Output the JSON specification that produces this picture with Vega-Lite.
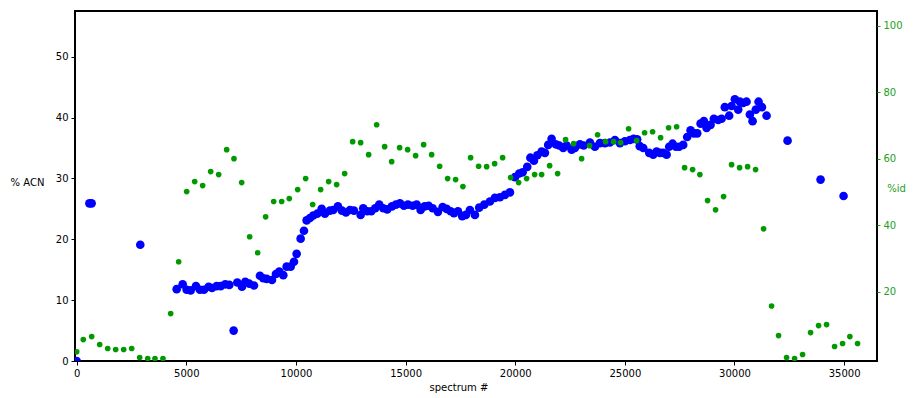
{
  "$schema": "https://vega.github.io/schema/vega-lite/v6.json",
  "width": 802,
  "height": 350,
  "autosize": {"type": "none"},
  "padding": {"left": 75, "top": 11, "right": 36, "bottom": 37},
  "background": "white",
  "config": {
    "view": {"stroke": "black", "strokeWidth": 2},
    "font": "DejaVu Sans",
    "axis": {"labelFont": "DejaVu Sans", "titleFont": "DejaVu Sans", "labelFontSize": 10, "titleFontSize": 10, "titleFontWeight": "normal", "grid": false, "domain": false, "tickColor": "black", "labelColor": "black", "titleColor": "black"}
  },
  "datasets": {
    "acn": [
      {"spectrum": 0, "acn": 0}, {"spectrum": 580, "acn": 25.9}, {"spectrum": 680, "acn": 25.9}, {"spectrum": 2900, "acn": 19.1},
      {"spectrum": 4560, "acn": 11.8}, {"spectrum": 4834, "acn": 12.6}, {"spectrum": 5016, "acn": 11.7}, {"spectrum": 5198, "acn": 11.6},
      {"spectrum": 5440, "acn": 12.3}, {"spectrum": 5622, "acn": 11.7}, {"spectrum": 5805, "acn": 11.7}, {"spectrum": 6019, "acn": 12.2},
      {"spectrum": 6170, "acn": 12.0}, {"spectrum": 6384, "acn": 12.3}, {"spectrum": 6566, "acn": 12.3}, {"spectrum": 6777, "acn": 12.6},
      {"spectrum": 6960, "acn": 12.5}, {"spectrum": 7159, "acn": 5.0}, {"spectrum": 7325, "acn": 12.9}, {"spectrum": 7538, "acn": 12.2},
      {"spectrum": 7690, "acn": 13.0}, {"spectrum": 7873, "acn": 12.7}, {"spectrum": 8085, "acn": 12.4}, {"spectrum": 8359, "acn": 14.0},
      {"spectrum": 8510, "acn": 13.6}, {"spectrum": 8664, "acn": 13.5}, {"spectrum": 8906, "acn": 13.3}, {"spectrum": 9088, "acn": 14.3},
      {"spectrum": 9240, "acn": 14.7}, {"spectrum": 9422, "acn": 14.1}, {"spectrum": 9576, "acn": 15.5}, {"spectrum": 9758, "acn": 15.5},
      {"spectrum": 9909, "acn": 16.3}, {"spectrum": 10032, "acn": 17.6}, {"spectrum": 10214, "acn": 20.1}, {"spectrum": 10365, "acn": 21.4},
      {"spectrum": 10488, "acn": 23.1}, {"spectrum": 10639, "acn": 23.5}, {"spectrum": 10789, "acn": 23.9}, {"spectrum": 10971, "acn": 24.2},
      {"spectrum": 11172, "acn": 25.0}, {"spectrum": 11322, "acn": 24.2}, {"spectrum": 11550, "acn": 24.7}, {"spectrum": 11701, "acn": 24.8},
      {"spectrum": 11915, "acn": 25.4}, {"spectrum": 12098, "acn": 24.7}, {"spectrum": 12280, "acn": 24.4}, {"spectrum": 12463, "acn": 24.8},
      {"spectrum": 12645, "acn": 24.7}, {"spectrum": 12950, "acn": 24.0}, {"spectrum": 13069, "acn": 25.1}, {"spectrum": 13251, "acn": 24.6},
      {"spectrum": 13434, "acn": 24.6}, {"spectrum": 13616, "acn": 25.1}, {"spectrum": 13798, "acn": 25.7}, {"spectrum": 13981, "acn": 25.1},
      {"spectrum": 14163, "acn": 24.9}, {"spectrum": 14378, "acn": 25.4}, {"spectrum": 14560, "acn": 25.7}, {"spectrum": 14742, "acn": 25.9},
      {"spectrum": 14925, "acn": 25.5}, {"spectrum": 15107, "acn": 25.7}, {"spectrum": 15322, "acn": 25.5}, {"spectrum": 15504, "acn": 25.7},
      {"spectrum": 15686, "acn": 24.8}, {"spectrum": 15869, "acn": 25.4}, {"spectrum": 16051, "acn": 25.5}, {"spectrum": 16233, "acn": 25.1},
      {"spectrum": 16475, "acn": 24.5}, {"spectrum": 16690, "acn": 25.3}, {"spectrum": 16872, "acn": 25.0}, {"spectrum": 17055, "acn": 24.6},
      {"spectrum": 17205, "acn": 24.3}, {"spectrum": 17388, "acn": 24.6}, {"spectrum": 17583, "acn": 23.8}, {"spectrum": 17750, "acn": 24.0},
      {"spectrum": 17934, "acn": 24.8}, {"spectrum": 18162, "acn": 24.0}, {"spectrum": 18358, "acn": 25.2}, {"spectrum": 18590, "acn": 25.7},
      {"spectrum": 18846, "acn": 26.2}, {"spectrum": 19075, "acn": 26.8}, {"spectrum": 19303, "acn": 26.9}, {"spectrum": 19531, "acn": 27.3},
      {"spectrum": 19759, "acn": 27.7}, {"spectrum": 19990, "acn": 30.2}, {"spectrum": 20183, "acn": 30.8}, {"spectrum": 20338, "acn": 31.0},
      {"spectrum": 20548, "acn": 31.9}, {"spectrum": 20690, "acn": 33.4}, {"spectrum": 20853, "acn": 32.9}, {"spectrum": 21010, "acn": 33.8},
      {"spectrum": 21204, "acn": 34.4}, {"spectrum": 21355, "acn": 34.2}, {"spectrum": 21505, "acn": 35.5}, {"spectrum": 21660, "acn": 36.5},
      {"spectrum": 21850, "acn": 35.6}, {"spectrum": 22007, "acn": 35.4}, {"spectrum": 22189, "acn": 35.0}, {"spectrum": 22343, "acn": 35.4},
      {"spectrum": 22572, "acn": 34.7}, {"spectrum": 22722, "acn": 35.0}, {"spectrum": 22950, "acn": 35.6}, {"spectrum": 23120, "acn": 35.4},
      {"spectrum": 23407, "acn": 35.9}, {"spectrum": 23635, "acn": 35.2}, {"spectrum": 23863, "acn": 35.8}, {"spectrum": 24091, "acn": 35.8},
      {"spectrum": 24319, "acn": 35.9}, {"spectrum": 24547, "acn": 36.3}, {"spectrum": 24775, "acn": 35.8}, {"spectrum": 25003, "acn": 36.1},
      {"spectrum": 25231, "acn": 36.3}, {"spectrum": 25400, "acn": 36.5}, {"spectrum": 25560, "acn": 36.4}, {"spectrum": 25680, "acn": 35.3},
      {"spectrum": 25840, "acn": 35.0}, {"spectrum": 26111, "acn": 34.2}, {"spectrum": 26293, "acn": 33.9}, {"spectrum": 26448, "acn": 34.4},
      {"spectrum": 26599, "acn": 34.2}, {"spectrum": 26749, "acn": 34.2}, {"spectrum": 26904, "acn": 33.9}, {"spectrum": 27023, "acn": 35.2},
      {"spectrum": 27178, "acn": 35.7}, {"spectrum": 27328, "acn": 35.2}, {"spectrum": 27478, "acn": 35.2}, {"spectrum": 27661, "acn": 35.5},
      {"spectrum": 27843, "acn": 36.8}, {"spectrum": 27998, "acn": 37.9}, {"spectrum": 28148, "acn": 37.4}, {"spectrum": 28300, "acn": 37.4},
      {"spectrum": 28454, "acn": 39.0}, {"spectrum": 28605, "acn": 39.4}, {"spectrum": 28727, "acn": 38.3}, {"spectrum": 28910, "acn": 38.8},
      {"spectrum": 29060, "acn": 39.8}, {"spectrum": 29256, "acn": 39.6}, {"spectrum": 29411, "acn": 39.8}, {"spectrum": 29561, "acn": 41.7},
      {"spectrum": 29757, "acn": 40.3}, {"spectrum": 29868, "acn": 41.9}, {"spectrum": 30018, "acn": 43.0}, {"spectrum": 30169, "acn": 41.3},
      {"spectrum": 30246, "acn": 42.6}, {"spectrum": 30397, "acn": 42.4}, {"spectrum": 30550, "acn": 42.6}, {"spectrum": 30702, "acn": 40.5},
      {"spectrum": 30825, "acn": 39.4}, {"spectrum": 30975, "acn": 41.3}, {"spectrum": 31099, "acn": 42.6}, {"spectrum": 31250, "acn": 41.7},
      {"spectrum": 31464, "acn": 40.3}, {"spectrum": 32421, "acn": 36.2}, {"spectrum": 33926, "acn": 29.8}, {"spectrum": 34975, "acn": 27.1}
    ],
    "pid": [
      {"spectrum": 0, "id": 2.0}, {"spectrum": 300, "id": 5.7}, {"spectrum": 684, "id": 6.6}, {"spectrum": 1049, "id": 4.2},
      {"spectrum": 1414, "id": 3.0}, {"spectrum": 1778, "id": 2.7}, {"spectrum": 2143, "id": 2.7}, {"spectrum": 2508, "id": 3.0},
      {"spectrum": 2873, "id": 0.3}, {"spectrum": 3238, "id": 0}, {"spectrum": 3570, "id": 0}, {"spectrum": 3935, "id": 0},
      {"spectrum": 4286, "id": 13.5}, {"spectrum": 4651, "id": 29.1}, {"spectrum": 5016, "id": 50.2}, {"spectrum": 5381, "id": 53.2},
      {"spectrum": 5745, "id": 52.0}, {"spectrum": 6110, "id": 56.2}, {"spectrum": 6475, "id": 55.3}, {"spectrum": 6840, "id": 62.8},
      {"spectrum": 7173, "id": 60.1}, {"spectrum": 7524, "id": 52.9}, {"spectrum": 7889, "id": 36.6}, {"spectrum": 8254, "id": 31.8},
      {"spectrum": 8618, "id": 42.6}, {"spectrum": 8983, "id": 47.2}, {"spectrum": 9348, "id": 47.2}, {"spectrum": 9695, "id": 48.1},
      {"spectrum": 10078, "id": 50.8}, {"spectrum": 10442, "id": 54.1}, {"spectrum": 10762, "id": 46.3}, {"spectrum": 11126, "id": 50.8},
      {"spectrum": 11491, "id": 53.2}, {"spectrum": 11856, "id": 52.3}, {"spectrum": 12221, "id": 55.6}, {"spectrum": 12586, "id": 65.2},
      {"spectrum": 12950, "id": 64.9}, {"spectrum": 13315, "id": 61.3}, {"spectrum": 13680, "id": 70.3}, {"spectrum": 14045, "id": 63.7},
      {"spectrum": 14364, "id": 59.2}, {"spectrum": 14728, "id": 63.4}, {"spectrum": 15093, "id": 62.8}, {"spectrum": 15458, "id": 61.0},
      {"spectrum": 15823, "id": 64.3}, {"spectrum": 16188, "id": 61.3}, {"spectrum": 16553, "id": 57.8}, {"spectrum": 16917, "id": 54.1},
      {"spectrum": 17282, "id": 53.8}, {"spectrum": 17615, "id": 51.7}, {"spectrum": 17966, "id": 60.4}, {"spectrum": 18331, "id": 57.8},
      {"spectrum": 18696, "id": 57.7}, {"spectrum": 19061, "id": 58.6}, {"spectrum": 19426, "id": 60.4}, {"spectrum": 19790, "id": 54.4},
      {"spectrum": 20155, "id": 52.9}, {"spectrum": 20520, "id": 54.1}, {"spectrum": 20885, "id": 55.3}, {"spectrum": 21204, "id": 55.3},
      {"spectrum": 21569, "id": 58.0}, {"spectrum": 21934, "id": 55.6}, {"spectrum": 22298, "id": 65.8}, {"spectrum": 22663, "id": 64.6},
      {"spectrum": 23028, "id": 60.1}, {"spectrum": 23393, "id": 64.0}, {"spectrum": 23757, "id": 67.3}, {"spectrum": 24122, "id": 65.2},
      {"spectrum": 24487, "id": 65.2}, {"spectrum": 24806, "id": 64.9}, {"spectrum": 25171, "id": 69.1}, {"spectrum": 25536, "id": 65.5},
      {"spectrum": 25901, "id": 67.9}, {"spectrum": 26265, "id": 68.2}, {"spectrum": 26630, "id": 66.4}, {"spectrum": 26995, "id": 69.4},
      {"spectrum": 27360, "id": 69.7}, {"spectrum": 27725, "id": 57.4}, {"spectrum": 28090, "id": 56.8}, {"spectrum": 28422, "id": 55.3},
      {"spectrum": 28773, "id": 47.5}, {"spectrum": 29138, "id": 44.7}, {"spectrum": 29503, "id": 48.7}, {"spectrum": 29868, "id": 58.3},
      {"spectrum": 30233, "id": 57.4}, {"spectrum": 30598, "id": 57.7}, {"spectrum": 30962, "id": 56.8}, {"spectrum": 31327, "id": 39.0},
      {"spectrum": 31692, "id": 15.8}, {"spectrum": 32011, "id": 6.9}, {"spectrum": 32376, "id": 0.3}, {"spectrum": 32741, "id": 0},
      {"spectrum": 33106, "id": 1.2}, {"spectrum": 33470, "id": 7.8}, {"spectrum": 33835, "id": 9.9}, {"spectrum": 34200, "id": 10.2},
      {"spectrum": 34565, "id": 3.6}, {"spectrum": 34930, "id": 4.5}, {"spectrum": 35263, "id": 6.6}, {"spectrum": 35614, "id": 4.5}
    ]
  },
  "layer": [
    {
      "data": {"name": "acn"},
      "mark": {"type": "circle", "color": "#0000ff", "opacity": 1, "size": 75, "clip": true},
      "encoding": {
        "x": {"field": "spectrum", "type": "quantitative", "scale": {"domain": [-77, 36500], "nice": false, "zero": false},
          "axis": {"title": "spectrum #", "values": [0, 5000, 10000, 15000, 20000, 25000, 30000, 35000], "format": "d", "tickSize": 4, "labelPadding": 3, "labelFlush": false, "titleAnchor": "start", "titleX": 354, "titleY": 26, "titleBaseline": "middle", "titleAlign": "left"}},
        "y": {"field": "acn", "type": "quantitative", "scale": {"domain": [0, 57.5], "nice": false, "zero": false},
          "axis": {"title": "% ACN", "orient": "left", "values": [0, 10, 20, 30, 40, 50], "tickSize": 4, "labelPadding": 3, "labelFlush": false, "titleAngle": 0, "titleAlign": "center", "titleBaseline": "middle", "titleX": -48, "titleY": 171}}
      }
    },
    {
      "data": {"name": "pid"},
      "mark": {"type": "circle", "color": "#009a00", "opacity": 1, "size": 32, "clip": true},
      "encoding": {
        "x": {"field": "spectrum", "type": "quantitative"},
        "y": {"field": "id", "type": "quantitative", "scale": {"domain": [-0.75, 104.5], "nice": false, "zero": false},
          "axis": {"title": "%id", "orient": "right", "values": [20, 40, 60, 80, 100], "tickSize": 3, "tickColor": "#22a022", "labelColor": "#22a022", "titleColor": "#22a022", "labelPadding": 3, "labelFlush": false, "titleAngle": 0, "titleAlign": "center", "titleBaseline": "middle", "titleX": 19, "titleY": 177}}
      }
    }
  ],
  "resolve": {"scale": {"y": "independent"}}
}
